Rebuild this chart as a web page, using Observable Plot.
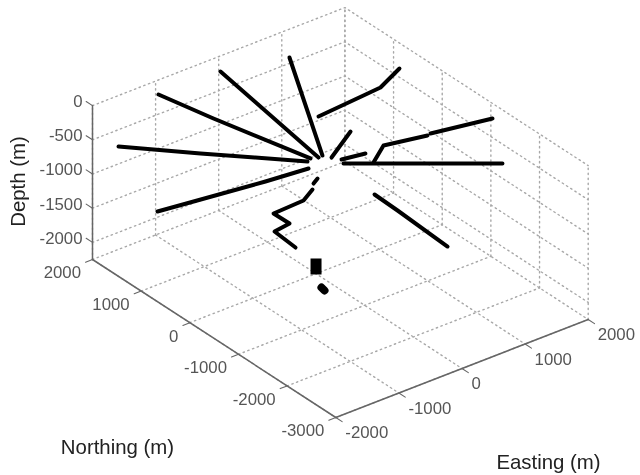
<!DOCTYPE html>
<html>
<head>
<meta charset="utf-8">
<script src="https://cdn.jsdelivr.net/npm/d3@7"></script>
<script src="https://cdn.jsdelivr.net/npm/@observablehq/plot@0.6"></script>
<style>
html,body{margin:0;padding:0;background:#fff}
svg{display:block;filter:blur(0.45px)}
</style>
</head>
<body>
<div id="chart"></div>
<script>
const eastingTicks = [-2000, -1000, 0, 1000, 2000];
const northingTicks = [2000, 1000, 0, -1000, -2000, -3000];
const depthTicks = [0, -500, -1000, -1500, -2000];
const eastingRange = [-2000, 2000];
const northingRange = [-3000, 2000];
const depthRange = [-2250, 0];

// Well trajectories, one array per well segment
const wellEasting = [
  [-1176, -736, -123],
  [-210, -29],
  [688, 41],
  [-1844, -1138, -199],
  [-1928, -660, -296],
  [-46, -162],
  [-264, -521, -1017, -1011, -1282, -1318],
  [1872, 1394, 1103, 336],
  [686, 100],
  [498, 169],
  [127, 1704],
  [440, 799, 1179],
  [1239, 1770],
  [484, 468, 414]
];
const wellNorthing = [
  [1712, 1153, -46],
  [1691, -89],
  [1438, -80],
  [1667, 898, -83],
  [757, 183, -230],
  [-91, -159],
  [-270, -419, -446, -767, -810, -1288],
  [713, 483, 455, 385],
  [180, -189],
  [-370, -305],
  [-400, -1622],
  [-610, -351, -762],
  [-746, -1332],
  [-575, -1069, -2166]
];
const wellDepth = [
  [0, -250, -500],
  [0, -500],
  [0, -500],
  [-500, -500, -500],
  [-1000, -750, -500],
  [-800, -800],
  [-800, -800, -800, -800, -800, -800],
  [-250, -250, -250, -250],
  [-500, -500],
  [-500, -500],
  [-500, -500],
  [-500, -500, -300],
  [-300, 0],
  [-1000, -1000, -1000]
];

// Deep event clusters
const padEasting = [-151, -151];
const padNorthing = [-196, -196];
const padDepth = [-1883, -2117];
const blobEasting = [-418, -434];
const blobNorthing = [-654, -737];
const blobDepth = [-2000, -2000];

const [eMin, eMax] = eastingRange;
const [nMin, nMax] = northingRange;
const [zMin, zMax] = depthRange;

// Orthographic view of the 3-D axes box
const px = d => 92 + (d.e - eMin) * 0.0631 + (nMax - d.n) * 0.04866;
const py = d => 259 - (d.e - eMin) * 0.0245 + (nMax - d.n) * 0.0316 - (d.z - zMin) * 0.0684;

const wells = wellEasting.flatMap((es, i) =>
  es.map((e, j) => ({well: i, e, n: wellNorthing[i][j], z: wellDepth[i][j]})));
const pad = padEasting.map((e, j) => ({e, n: padNorthing[j], z: padDepth[j]}));
const blob = blobEasting.map((e, j) => ({e, n: blobNorthing[j], z: blobDepth[j]}));

// Dotted grid: floor and the two back walls
const seg = (id, a, b) => [{id, ...a}, {id, ...b}];
const grid = [
  ...eastingTicks.flatMap(e => [
    ...seg("fe" + e, {e, n: nMax, z: zMin}, {e, n: nMin, z: zMin}),
    ...seg("we" + e, {e, n: nMax, z: zMin}, {e, n: nMax, z: zMax})
  ]),
  ...northingTicks.flatMap(n => [
    ...seg("fn" + n, {e: eMin, n, z: zMin}, {e: eMax, n, z: zMin}),
    ...seg("wn" + n, {e: eMax, n, z: zMin}, {e: eMax, n, z: zMax})
  ]),
  ...depthTicks.flatMap(z => [
    {id: "z" + z, e: eMin, n: nMax, z},
    {id: "z" + z, e: eMax, n: nMax, z},
    {id: "z" + z, e: eMax, n: nMin, z}
  ])
];

const axes = [
  ...seg("az", {e: eMin, n: nMax, z: zMax}, {e: eMin, n: nMax, z: zMin}),
  ...seg("an", {e: eMin, n: nMax, z: zMin}, {e: eMin, n: nMin, z: zMin}),
  ...seg("ae", {e: eMin, n: nMin, z: zMin}, {e: eMax, n: nMin, z: zMin})
];
const ticks = [
  ...depthTicks.flatMap(z => seg("tz" + z, {e: eMin, n: nMax, z}, {e: eMin, n: nMax + 130, z})),
  ...northingTicks.flatMap(n => seg("tn" + n, {e: eMin, n, z: zMin}, {e: eMin - 110, n, z: zMin})),
  ...eastingTicks.flatMap(e => seg("te" + e, {e, n: nMin, z: zMin}, {e, n: nMin - 130, z: zMin}))
];

const depthLabels = depthTicks.map(z => ({e: eMin, n: nMax, z, t: String(z)}));
const northLabels = northingTicks.map(n => ({e: eMin, n, z: zMin, t: String(n)}));
const eastLabels = eastingTicks.map(e => ({e, n: nMin, z: zMin, t: String(e)}));

const tickFill = "#555";
const tickSize = 16.8;
const titleSize = 20.4;
const gridStyle = {x: px, y: py, z: "id", stroke: "#a8a8a8", strokeWidth: 1.4, strokeDasharray: "1.4 3.6"};
const wellStyle = {x: px, y: py, stroke: "#000", strokeLinecap: "round", strokeLinejoin: "round"};
const titleStyle = {frameAnchor: "top-left", text: d => d, textAnchor: "middle", lineAnchor: "middle", fill: "#222", fontSize: titleSize};

const chart = Plot.plot({
  width: 640,
  height: 475,
  margin: 0,
  style: {background: "#fff", fontFamily: "'Liberation Sans', Arial, sans-serif"},
  x: {domain: [0, 640], range: [0, 640], axis: null},
  y: {domain: [0, 475], range: [0, 475], axis: null},
  marks: [
    Plot.line(grid, gridStyle),
    Plot.line(axes, {x: px, y: py, z: "id", stroke: "#666", strokeWidth: 1.5}),
    Plot.line(ticks, {x: px, y: py, z: "id", stroke: "#666", strokeWidth: 1.1}),
    Plot.line(wells, {...wellStyle, z: "well", strokeWidth: 4}),
    Plot.line(pad, {x: px, y: py, stroke: "#000", strokeWidth: 11, strokeLinecap: "butt"}),
    Plot.line(blob, {...wellStyle, strokeWidth: 8}),
    Plot.text(depthLabels, {x: px, y: py, text: "t", textAnchor: "end", dx: -10, dy: -4, fill: tickFill, fontSize: tickSize}),
    Plot.text(northLabels, {x: px, y: py, text: "t", textAnchor: "end", dx: -11.5, dy: 13.5, fill: tickFill, fontSize: tickSize}),
    Plot.text(eastLabels, {x: px, y: py, text: "t", textAnchor: "start", dx: 9.5, dy: 15.5, fill: tickFill, fontSize: tickSize}),
    Plot.text(["Depth (m)"], {...titleStyle, dx: 18, dy: 181, rotate: -90}),
    Plot.text(["Northing (m)"], {...titleStyle, dx: 117, dy: 447}),
    Plot.text(["Easting (m)"], {...titleStyle, dx: 548, dy: 462})
  ]
});
document.getElementById("chart").append(chart);
</script>
</body>
</html>
